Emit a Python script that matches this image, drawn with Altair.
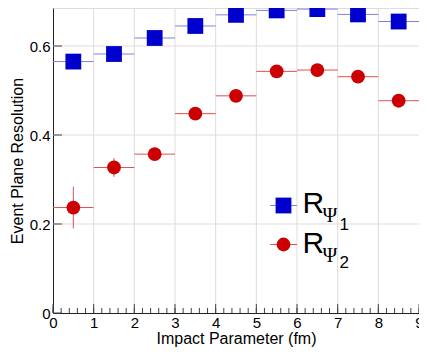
import altair as alt
import pandas as pd

# ---- data ----
b_centers = [0.5, 1.5, 2.5, 3.5, 4.5, 5.5, 6.5, 7.5, 8.5]
b_half = [0.5] * 9
r_psi1 = [0.565, 0.582, 0.618, 0.645, 0.670, 0.680, 0.683, 0.671, 0.655]
r_psi1_err = [0.006, 0.005, 0.005, 0.004, 0.004, 0.004, 0.004, 0.004, 0.005]
r_psi2 = [0.237, 0.327, 0.357, 0.448, 0.488, 0.543, 0.546, 0.531, 0.477]
r_psi2_err = [0.047, 0.021, 0.012, 0.010, 0.008, 0.008, 0.007, 0.008, 0.009]

x_major = [0, 1, 2, 3, 4, 5, 6, 7, 8, 9]
x_minor = [round(i * 0.2, 1) for i in range(0, 46)]
y_major = [0.0, 0.2, 0.4, 0.6]
x_grid = [1, 2, 3, 4, 5, 6, 7, 8]
y_grid = [0.2, 0.4, 0.6]

W, H = 366, 305
Y_TOP = 0.6854
FONT = "Liberation Sans"
BLUE, BLUE_L = "#0000cc", "#8080dd"
RED, RED_L = "#cc0000", "#e05050"

xs = alt.Scale(domain=[0, 9], nice=False, zero=False)
ys = alt.Scale(domain=[0, Y_TOP], nice=False, zero=False)

x_axis = alt.Axis(values=x_major, title="Impact Parameter (fm)", ticks=False, grid=False,
                  domainColor="#222", domainWidth=1, labelFontSize=15, labelFont=FONT,
                  labelColor="black", labelPadding=2, labelFlush=False, labelBound=False,
                  labelOverlap=False, titleFont=FONT, titleFontSize=16, titleFontWeight="normal",
                  titleColor="black", titlePadding=0)
y_axis = alt.Axis(values=y_major, title="Event Plane Resolution", ticks=False, grid=False,
                  domainColor="#222", domainWidth=1, labelFontSize=15, labelFont=FONT,
                  labelColor="black", labelPadding=3, labelFlush=False, labelBound=False,
                  labelOverlap=False, format=".1~f", titleFont=FONT, titleFontSize=16,
                  titleFontWeight="normal", titleColor="black", titlePadding=4)

def series_df(vals, errs, name):
    return pd.DataFrame({
        "x": b_centers,
        "xlo": [c - h for c, h in zip(b_centers, b_half)],
        "xhi": [c + h for c, h in zip(b_centers, b_half)],
        "y": vals,
        "ylo": [v - e for v, e in zip(vals, errs)],
        "yhi": [v + e for v, e in zip(vals, errs)],
        "s": name,
    })

d1 = series_df(r_psi1, r_psi1_err, "R1")
d2 = series_df(r_psi2, r_psi2_err, "R2")

vgrid = alt.Chart(pd.DataFrame({"x": x_grid})).mark_rule(color="#dddddd", strokeWidth=1).encode(
    x=alt.X("x:Q", scale=xs, axis=x_axis), y=alt.value(0), y2=alt.value(H))
hgrid = alt.Chart(pd.DataFrame({"y": y_grid})).mark_rule(color="#dddddd", strokeWidth=1).encode(
    y=alt.Y("y:Q", scale=ys, axis=y_axis), x=alt.value(0), x2=alt.value(W))
axes = alt.Chart(pd.DataFrame({"x": [0, 9], "y": [0, Y_TOP]})).mark_point(opacity=0).encode(
    x=alt.X("x:Q", scale=xs, axis=x_axis), y=alt.Y("y:Q", scale=ys, axis=y_axis))

xmaj = alt.Chart(pd.DataFrame({"x": x_major})).mark_rule(color="#444", strokeWidth=1).encode(
    x=alt.X("x:Q", scale=xs, axis=x_axis), y=alt.value(H), y2=alt.value(H - 9))
xmin = alt.Chart(pd.DataFrame({"x": x_minor})).mark_rule(color="#444", strokeWidth=1).encode(
    x=alt.X("x:Q", scale=xs, axis=x_axis), y=alt.value(H), y2=alt.value(H - 5))
ymaj = alt.Chart(pd.DataFrame({"y": y_major})).mark_rule(color="#444", strokeWidth=1).encode(
    y=alt.Y("y:Q", scale=ys, axis=y_axis), x=alt.value(0), x2=alt.value(9))

def err_layers(d, light):
    h = alt.Chart(d).mark_rule(color=light, strokeWidth=1).encode(
        x=alt.X("xlo:Q", scale=xs, axis=x_axis), x2="xhi:Q", y=alt.Y("y:Q", scale=ys, axis=y_axis))
    v = alt.Chart(d).mark_rule(color=light, strokeWidth=1).encode(
        x=alt.X("x:Q", scale=xs, axis=x_axis), y=alt.Y("ylo:Q", scale=ys, axis=y_axis), y2="yhi:Q")
    return h, v

h1, v1 = err_layers(d1, BLUE_L)
h2, v2 = err_layers(d2, RED_L)

sq = alt.Chart(d1).mark_square(size=250, color=BLUE, opacity=1, filled=True).encode(
    x=alt.X("x:Q", scale=xs, axis=x_axis), y=alt.Y("y:Q", scale=ys, axis=y_axis))
ci = alt.Chart(d2).mark_circle(size=190, color=RED, opacity=1).encode(
    x=alt.X("x:Q", scale=xs, axis=x_axis), y=alt.Y("y:Q", scale=ys, axis=y_axis))

# ---- legend ----
LX = 230.5
leg_line1 = alt.Chart().mark_rule(color=BLUE_L, strokeWidth=1).encode(
    x=alt.value(LX - 13.5), x2=alt.value(LX + 13.5), y=alt.value(197.5))
leg_sq = alt.Chart().mark_square(size=250, color=BLUE, opacity=1, filled=True).encode(
    x=alt.value(LX), y=alt.value(197.5))
leg_line2 = alt.Chart().mark_rule(color=RED_L, strokeWidth=1).encode(
    x=alt.value(LX - 13.5), x2=alt.value(LX + 13.5), y=alt.value(236.5))
leg_ci = alt.Chart().mark_circle(size=190, color=RED, opacity=1).encode(
    x=alt.value(LX), y=alt.value(236.5))

def txt(s, x, y, size, font):
    return alt.Chart().mark_text(text=s, font=font, fontSize=size, align="left",
                                 baseline="alphabetic", color="black").encode(
        x=alt.value(x), y=alt.value(y))

legend = [
    txt("R", LX + 19, 205, 30, FONT),
    txt("\u03a8", LX + 39, 214, 20, "Liberation Serif"),
    txt("1", LX + 56, 222, 17, FONT),
    txt("R", LX + 19, 245, 30, FONT),
    txt("\u03a8", LX + 39, 254, 20, "Liberation Serif"),
    txt("2", LX + 56, 260, 17, FONT),
]

chart = alt.layer(vgrid, hgrid, axes, xmaj, xmin, ymaj, h1, v1, h2, v2, sq, ci,
                  leg_line1, leg_sq, leg_line2, leg_ci, *legend).properties(
    width=W, height=H,
    autosize=alt.AutoSizeParams(type="none"),
    padding={"left": 45, "top": 0, "right": 0, "bottom": 35},
).configure_view(stroke=None).configure(background="white")

chart.save("out.html", embed_options={"renderer": "svg", "actions": False})
